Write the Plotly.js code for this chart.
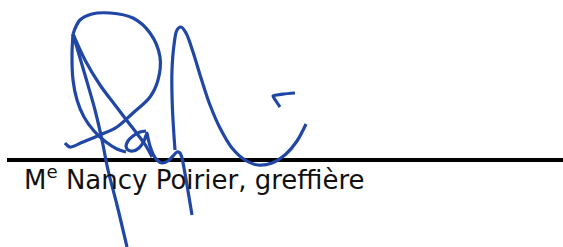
<!DOCTYPE html>
<html>
<head>
<meta charset="utf-8">
<script src="https://cdn.plot.ly/plotly-3.0.1.min.js"></script>
<style>html,body{margin:0;padding:0;background:#fff;}#chart{width:563px;height:247px;}</style>
</head>
<body>
<div id="chart"></div>
<script>
// Signature strokes (picture coordinates, y downward)
const loopX = [73, 80, 92, 110, 133, 150, 160, 158, 150, 133, 117, 100, 83, 70, 65];
const loopY = [34, 20, 14, 13, 18, 33, 57, 80, 97, 113, 127, 135, 142, 147, 143];

const leftX = [73, 72, 73, 77, 84, 94, 106, 117, 126];
const leftY = [34, 55, 80, 100, 117, 131, 142, 149, 152];

const downX = [73, 85, 95, 102, 108, 117, 127];
const downY = [34, 75, 110, 140, 170, 205, 247];

const diagX = [73, 85, 100, 115, 128, 138, 146, 152];
const diagY = [34, 60, 85, 105, 122, 135, 146, 157];

const aX = [146, 140, 133, 128, 126, 128, 133, 139, 144, 147, 148, 150, 153, 157, 162, 168, 173, 177, 180, 182, 184, 187, 192];
const aY = [131, 132, 136, 141, 146, 150, 151, 148, 141, 133, 138, 146, 154, 160, 163, 161, 156, 152, 153, 158, 168, 185, 215];

const tallX = [175, 173, 172, 172, 174, 177, 181, 186, 193, 201, 210, 220, 232, 245, 258, 272, 286, 297, 306];
const tallY = [150, 120, 95, 70, 45, 30, 27, 33, 52, 78, 105, 128, 148, 160, 165, 163, 154, 141, 124];

const tickX = [295, 284, 273, 276, 280];
const tickY = [93, 94, 96, 101, 107];

// Signature rule
const ruleX = [7, 563];
const ruleY = [160, 160];

// Caption
const captionText = 'M<sup>e</sup> Nancy Poirier, greffière';

const ink = '#2047a6';
function stroke(x, y, sm) {
  return {x: x, y: y, type: 'scatter', mode: 'lines',
          line: {color: ink, width: 3.2, shape: 'spline', smoothing: sm},
          hoverinfo: 'skip'};
}

const data = [
  {x: ruleX, y: ruleY, type: 'scatter', mode: 'lines', line: {color: '#000', width: 4}, hoverinfo: 'skip'},
  stroke(loopX, loopY, 1.0),
  stroke(leftX, leftY, 1.0),
  stroke(downX, downY, 1.0),
  stroke(diagX, diagY, 1.0),
  stroke(aX, aY, 0.7),
  stroke(tallX, tallY, 1.0),
  stroke(tickX, tickY, 0.5)
];

const layout = {
  width: 563, height: 247,
  margin: {l: 0, r: 0, t: 0, b: 0, pad: 0},
  paper_bgcolor: '#fff', plot_bgcolor: '#fff',
  showlegend: false,
  xaxis: {range: [0, 563], visible: false, fixedrange: true},
  yaxis: {range: [247, 0], visible: false, fixedrange: true},
  annotations: [{
    text: captionText, x: 22, y: 178, xref: 'x', yref: 'y',
    xanchor: 'left', yanchor: 'middle', showarrow: false,
    font: {family: 'DejaVu Sans', size: 26, color: '#111'}
  }]
};

Plotly.newPlot('chart', data, layout, {staticPlot: true, displayModeBar: false});
</script>
</body>
</html>
